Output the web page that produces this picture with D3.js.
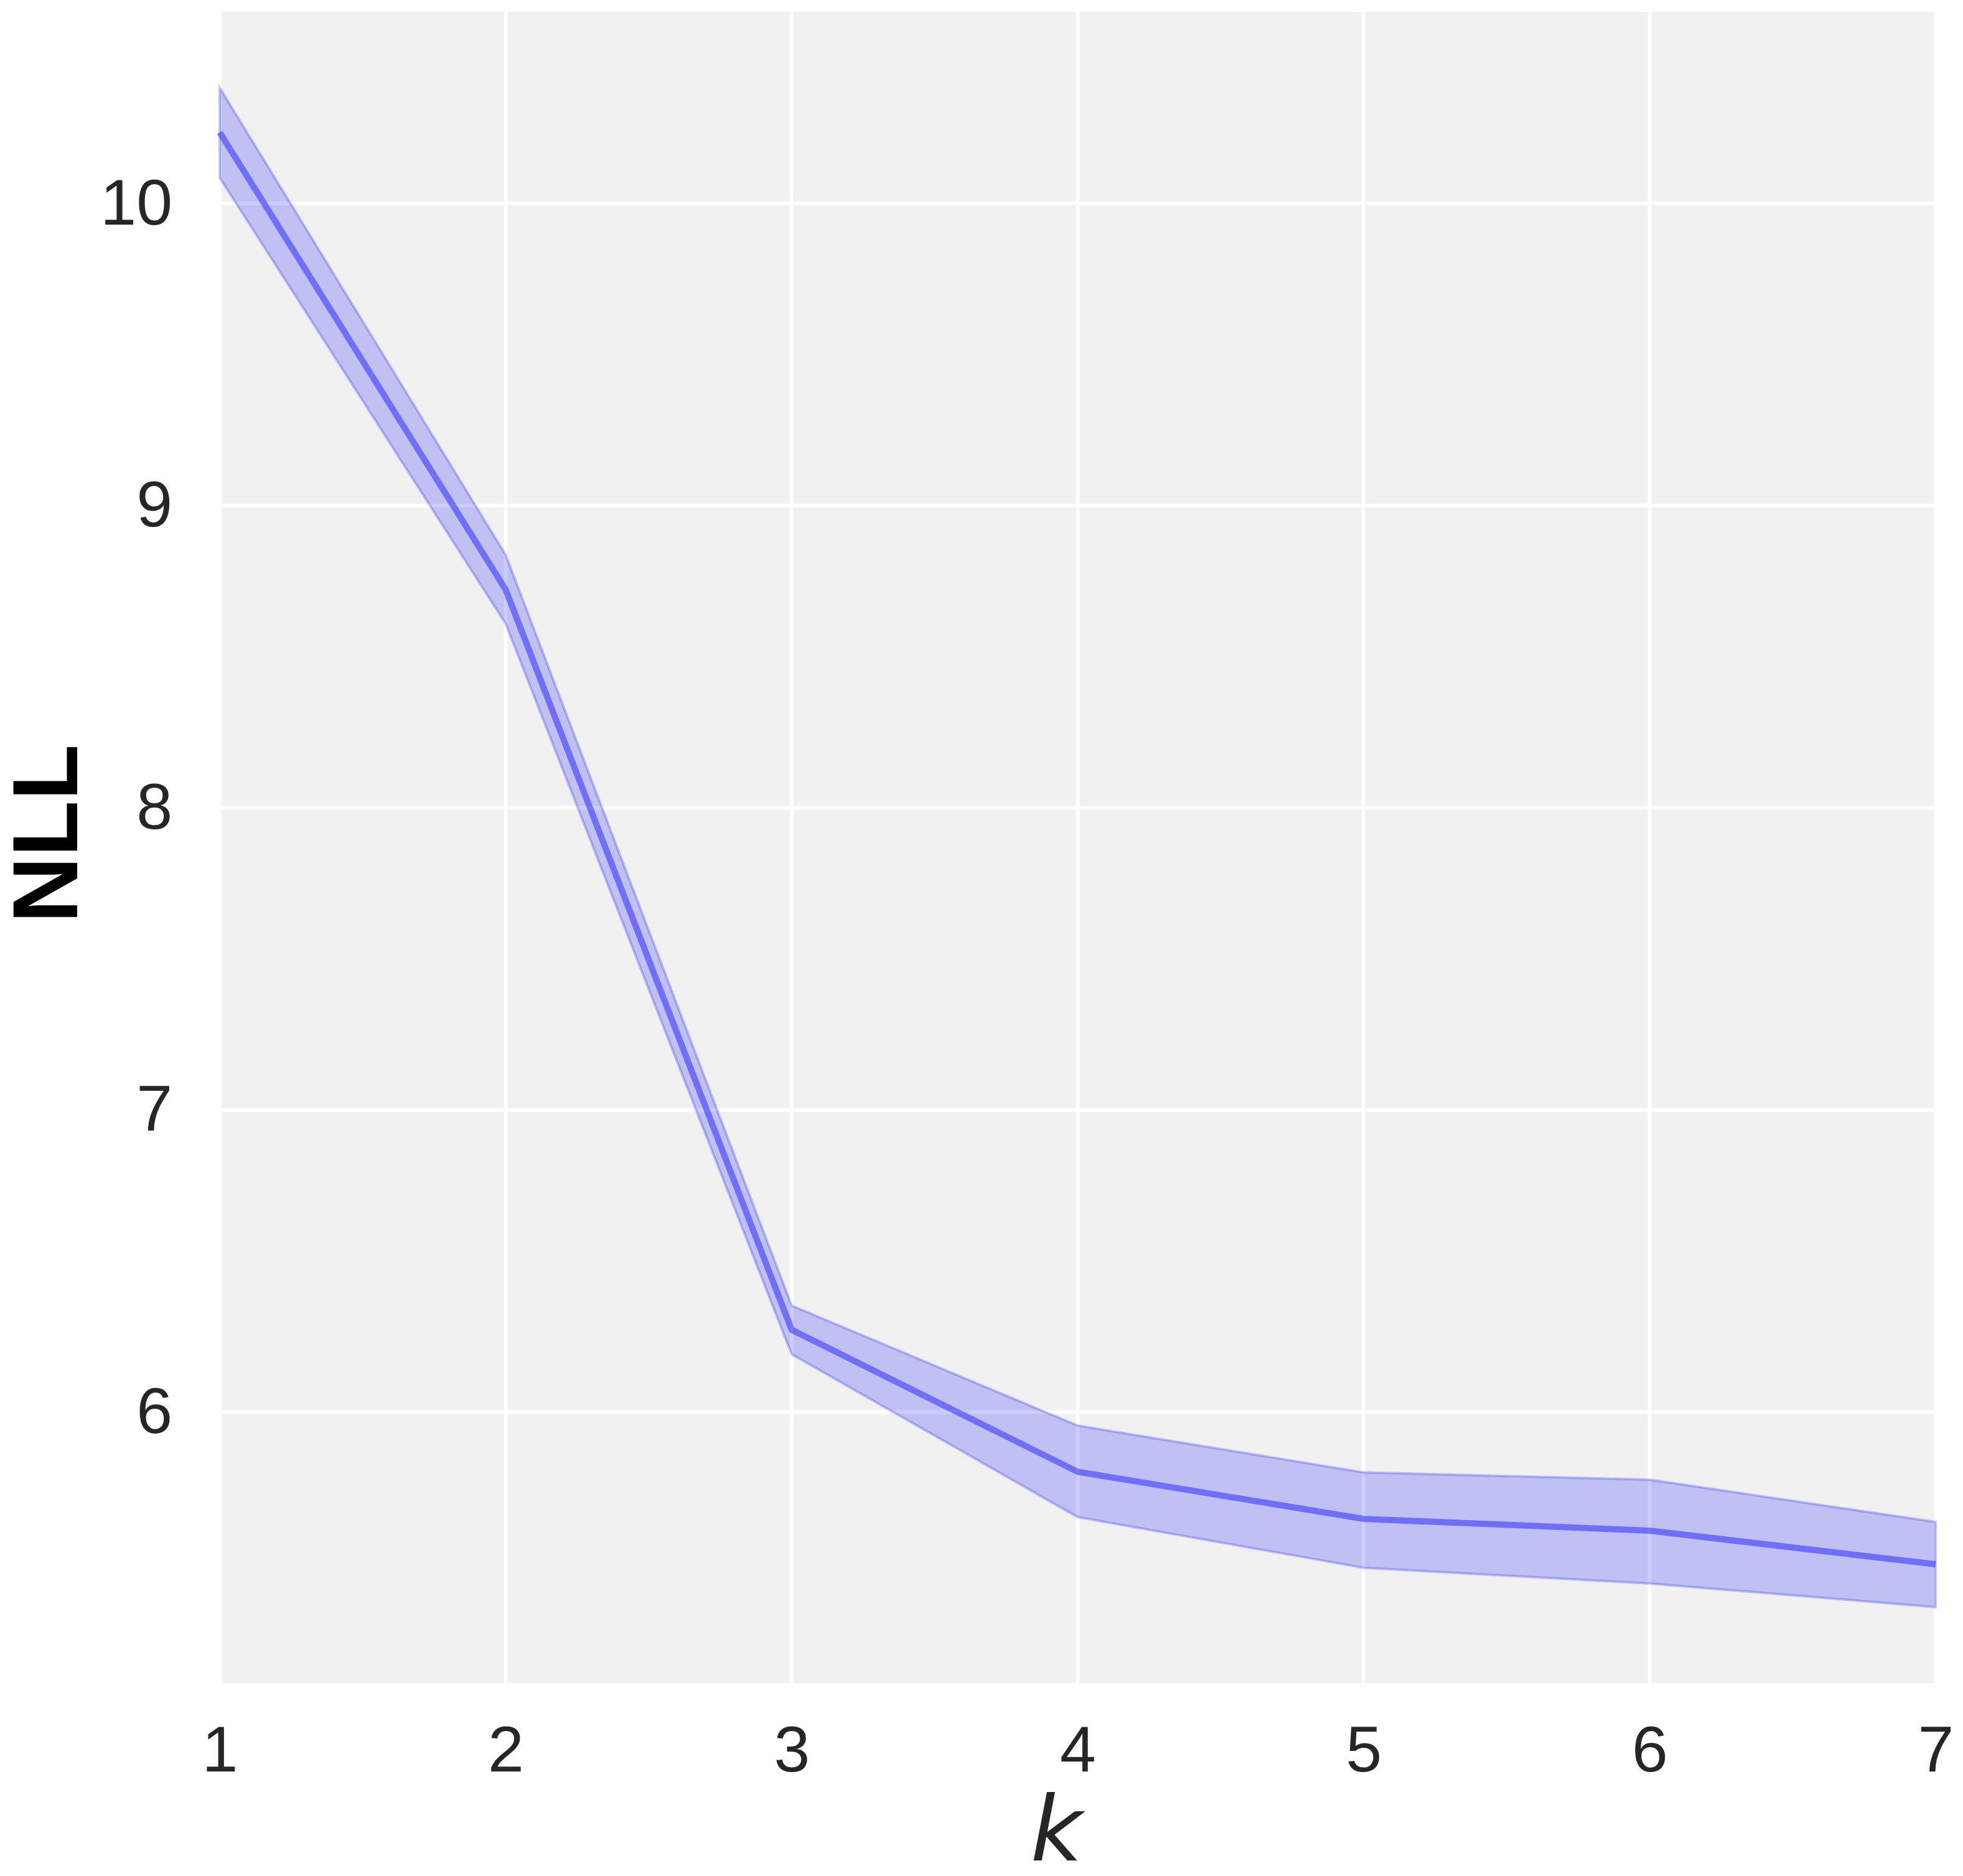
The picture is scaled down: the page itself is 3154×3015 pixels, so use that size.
<!DOCTYPE html>
<html>
<head>
<meta charset="utf-8">
<script src="https://cdn.jsdelivr.net/npm/d3@7"></script>
<style>
    html, body { margin: 0; padding: 0; background: #ffffff; }
    svg { display: block; }
    .tick text { font-family: 'Liberation Sans', Arial, sans-serif; fill: #262626; }
</style>
</head>
<body>
<div id="chart"></div>
<script>
var ks = [1, 2, 3, 4, 5, 6, 7],
    nllMean = [10.235, 8.722, 6.272, 5.802, 5.646, 5.607, 5.496],
    nllUpper = [10.383, 8.837, 6.352, 5.955, 5.800, 5.776, 5.636],
    nllLower = [10.085, 8.609, 6.191, 5.652, 5.484, 5.432, 5.354],
    yTicks = [6, 7, 8, 9, 10],
    xTicks = [1, 2, 3, 4, 5, 6, 7];

draw();

function draw() {
    let width = 3154, height = 3015,
        margin = { top: 19, right: 44, bottom: 310, left: 353 },
        w = width - margin.left - margin.right,
        h = height - margin.top - margin.bottom;

    let svg = d3.select('#chart').append('svg')
        .attr('width', width)
        .attr('height', height);

    let g = svg.append('g')
        .attr('transform', 'translate(' + margin.left + ',' + margin.top + ')');

    // Scales (matplotlib-like 5% margin on y, none on x)
    let lo = d3.min(nllLower), hi = d3.max(nllUpper), pad = (hi - lo) * 0.05;
    let x = d3.scaleLinear().domain([1, 7]).range([0, w]);
    let y = d3.scaleLinear().domain([lo - pad, hi + pad]).range([h, 0]);

    // Background + grid
    g.append('rect')
        .attr('width', w)
        .attr('height', h)
        .attr('fill', '#f1f1f1');

    g.append('g')
        .selectAll('line')
        .data(yTicks)
        .enter().append('line')
        .attr('x1', 0).attr('x2', w)
        .attr('y1', d => y(d)).attr('y2', d => y(d))
        .attr('stroke', '#ffffff')
        .attr('stroke-width', 6);

    g.append('g')
        .selectAll('line')
        .data(xTicks)
        .enter().append('line')
        .attr('y1', 0).attr('y2', h)
        .attr('x1', d => x(d)).attr('x2', d => x(d))
        .attr('stroke', '#ffffff')
        .attr('stroke-width', 6);

    // Band
    let rows = ks.map((k, i) => ({ k: k, mean: nllMean[i], upper: nllUpper[i], lower: nllLower[i] }));

    let area = d3.area()
        .x(d => x(d.k))
        .y0(d => y(d.lower))
        .y1(d => y(d.upper));

    g.append('path')
        .datum(rows)
        .attr('d', area)
        .attr('fill', 'rgb(0, 0, 255)')
        .attr('fill-opacity', 0.2)
        .attr('stroke', 'rgb(0, 0, 255)')
        .attr('stroke-opacity', 0.22)
        .attr('stroke-width', 4);

    // Mean line
    let line = d3.line()
        .x(d => x(d.k))
        .y(d => y(d.mean));

    g.append('path')
        .datum(rows)
        .attr('d', line)
        .attr('fill', 'none')
        .attr('stroke', 'rgb(30, 30, 255)')
        .attr('stroke-opacity', 0.5)
        .attr('stroke-width', 10)
        .attr('stroke-linejoin', 'round');

    // Axes
    let xAxis = g.append('g')
        .attr('transform', 'translate(0,' + h + ')')
        .call(d3.axisBottom(x).tickValues(xTicks).tickSize(0).tickPadding(68).tickFormat(d3.format('d')));

    let yAxis = g.append('g')
        .call(d3.axisLeft(y).tickValues(yTicks).tickSize(0).tickPadding(76).tickFormat(d3.format('d')));

    [xAxis, yAxis].forEach(a => {
        a.select('.domain').remove();
        a.selectAll('.tick text').attr('font-size', 104);
    });

    // Labels
    svg.append('text')
        .attr('x', margin.left + w / 2 - 34)
        .attr('y', 2990)
        .attr('text-anchor', 'middle')
        .attr('font-family', "'DejaVu Sans', sans-serif")
        .attr('font-style', 'italic')
        .attr('font-size', 144)
        .attr('fill', '#262626')
        .text('k');

    svg.append('text')
        .attr('transform', 'translate(124,1340) rotate(-90)')
        .attr('text-anchor', 'middle')
        .attr('font-family', "'Liberation Sans', Arial, sans-serif")
        .attr('font-weight', 'bold')
        .attr('font-size', 148)
        .attr('fill', '#000000')
        .text('NLL');
}
</script>
</body>
</html>
